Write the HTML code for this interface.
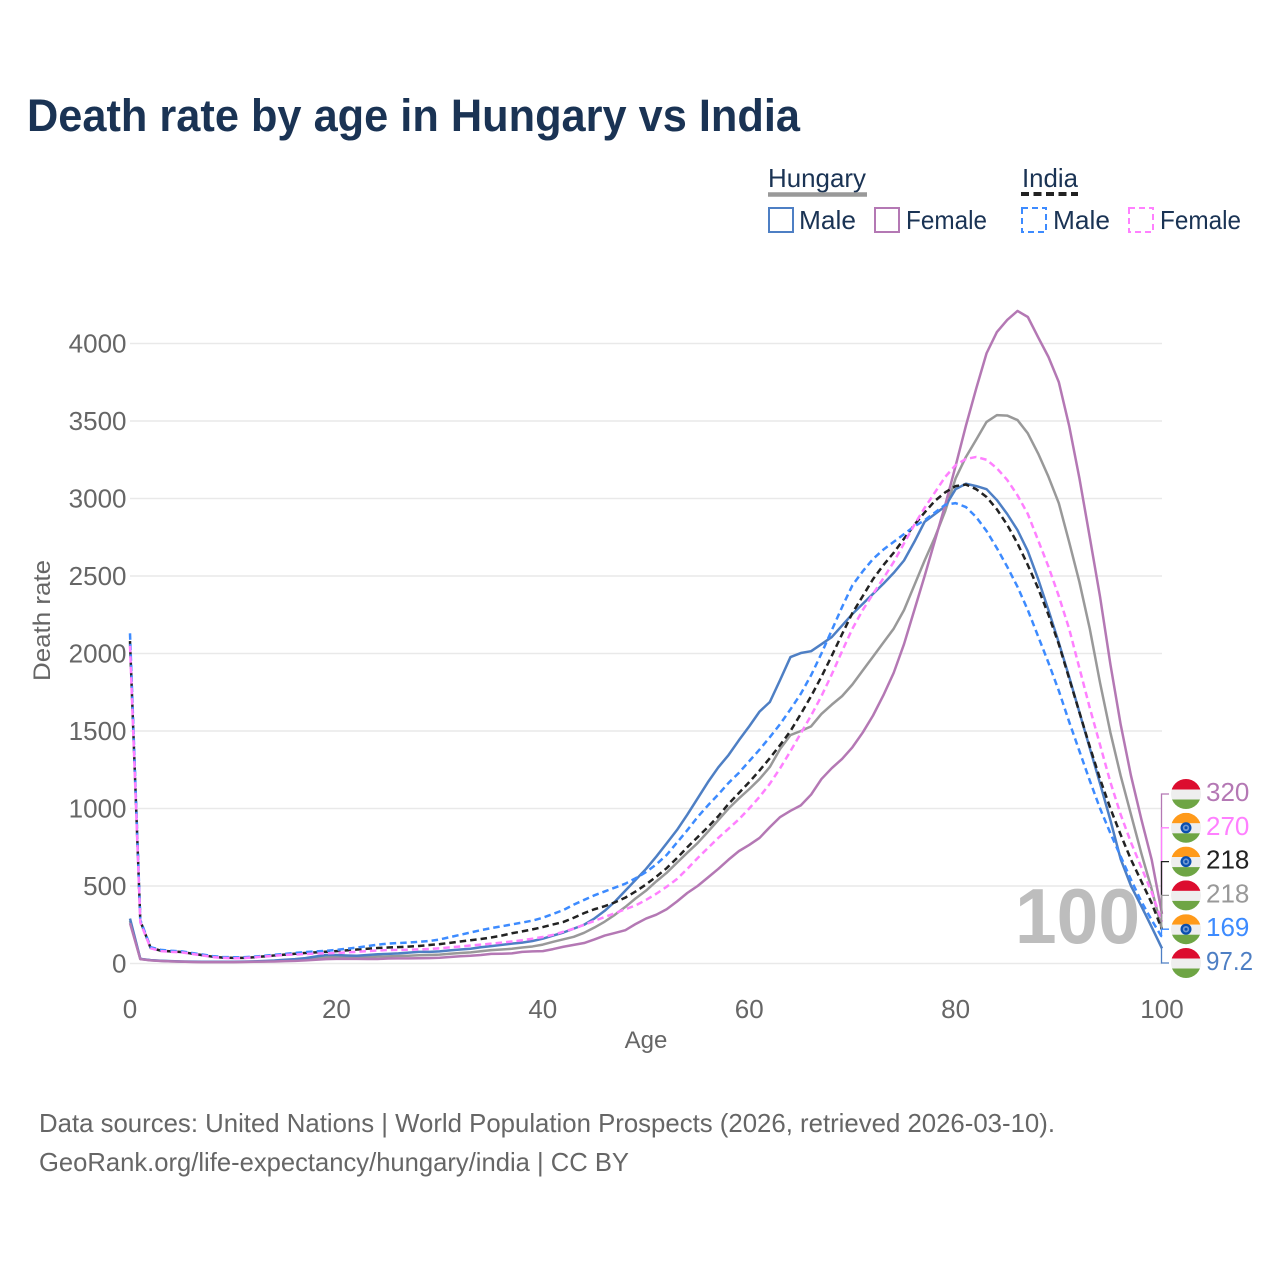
<!DOCTYPE html>
<html lang="en">
<head>
<meta charset="utf-8">
<title>Death rate by age in Hungary vs India</title>
<style>
html,body{margin:0;padding:0;background:#fff;}
svg{display:block;font-family:"Liberation Sans",sans-serif;}
</style>
</head>
<body>
<svg id="chart" xmlns="http://www.w3.org/2000/svg" width="1280" height="1280" viewBox="0 0 1280 1280">
<rect x="0" y="0" width="1280" height="1280" fill="#fff"/>
<text x="27" y="131" font-size="45" font-weight="700" fill="#1a3354" textLength="773" lengthAdjust="spacingAndGlyphs">Death rate by age in Hungary vs India</text>

<g>
<text x="768" y="187" font-size="26" fill="#1a3354" textLength="98" lengthAdjust="spacingAndGlyphs">Hungary</text>
<line x1="768" y1="194.5" x2="867" y2="194.5" stroke="#999" stroke-width="4.5"/>
<text x="1022" y="187" font-size="26" fill="#1a3354" textLength="56" lengthAdjust="spacingAndGlyphs">India</text>
<line x1="1021" y1="194" x2="1078" y2="194" stroke="#222" stroke-width="4" stroke-dasharray="8 4.5"/>
<rect x="769" y="208" width="24" height="24" fill="none" stroke="#4e7fc4" stroke-width="2"/>
<text x="799" y="229" font-size="26" fill="#1a3354" textLength="57" lengthAdjust="spacingAndGlyphs">Male</text>
<rect x="875" y="208" width="24" height="24" fill="none" stroke="#b478b4" stroke-width="2"/>
<text x="906" y="229" font-size="26" fill="#1a3354" textLength="81" lengthAdjust="spacingAndGlyphs">Female</text>
<rect x="1022" y="208" width="24" height="24" fill="none" stroke="#3d8bff" stroke-width="2" stroke-dasharray="6 4"/>
<text x="1053" y="229" font-size="26" fill="#1a3354" textLength="57" lengthAdjust="spacingAndGlyphs">Male</text>
<rect x="1129" y="208" width="24" height="24" fill="none" stroke="#ff80ff" stroke-width="2" stroke-dasharray="6 4"/>
<text x="1160" y="229" font-size="26" fill="#1a3354" textLength="81" lengthAdjust="spacingAndGlyphs">Female</text>
</g>

<g id="grid"></g>
<g id="yticks"></g>
<g id="xticks"></g>
<text transform="translate(50,620.5) rotate(-90)" text-anchor="middle" font-size="24" fill="#666" textLength="121" lengthAdjust="spacingAndGlyphs">Death rate</text>
<text x="646" y="1048" text-anchor="middle" font-size="24" fill="#666">Age</text>
<text x="1015" y="943" font-size="78" font-weight="700" fill="#bdbdbd" textLength="125" lengthAdjust="spacingAndGlyphs">100</text>
<g id="series"></g>
<g id="endlabels"></g>

<text x="39" y="1132" font-size="26" fill="#666" textLength="1016" lengthAdjust="spacingAndGlyphs">Data sources: United Nations | World Population Prospects (2026, retrieved 2026-03-10).</text>
<text x="39" y="1171" font-size="26" fill="#666" textLength="590" lengthAdjust="spacingAndGlyphs">GeoRank.org/life-expectancy/hungary/india | CC BY</text>
</svg>
<script>
const yTickValues = [0, 500, 1000, 1500, 2000, 2500, 3000, 3500, 4000];
const xTickValues = [0, 20, 40, 60, 80, 100];
const ages = [];
for (let a = 0; a <= 100; a++) ages.push(a);

const hungaryTotal = [275,29,21,17,14,12,11,10,10,10,10,11,12,14,16,19,22,27,33,40,42,41,40,41,44,46,48,50,53,55,57,63,68,72,79,86,90,95,103,110,122,140,156,172,198,232,270,315,365,420,470,530,585,650,715,777,850,925,1000,1065,1125,1190,1268,1385,1474,1500,1530,1610,1670,1725,1800,1890,1980,2070,2160,2280,2440,2600,2750,2920,3130,3268,3380,3494,3538,3535,3506,3420,3290,3140,2970,2720,2460,2160,1810,1490,1210,960,710,480,218];
const hungaryMale = [290,30,22,18,15,13,12,11,11,11,11,12,14,16,19,24,28,35,45,55,55,52,50,55,60,62,65,70,75,75,78,85,90,95,105,112,120,128,135,145,160,180,200,225,250,290,340,400,470,540,610,690,775,861,960,1065,1170,1265,1345,1440,1530,1625,1687,1830,1977,2003,2015,2060,2106,2180,2255,2320,2385,2450,2520,2600,2720,2850,2900,2950,3060,3095,3080,3060,2990,2900,2796,2660,2480,2280,2070,1850,1620,1390,1160,925,672,500,370,235,97.2];
const hungaryFemale = [260,28,20,16,14,12,10,9,9,9,9,10,11,12,13,15,17,20,24,28,30,30,30,29,29,32,33,33,34,35,37,42,47,50,55,62,63,65,75,78,80,93,108,120,132,155,180,197,215,255,290,315,350,400,455,500,555,610,670,725,765,810,880,945,985,1020,1090,1190,1260,1320,1395,1490,1600,1730,1875,2060,2280,2500,2730,2960,3210,3470,3710,3937,4074,4152,4210,4171,4040,3913,3751,3470,3130,2750,2365,1930,1540,1210,930,670,320];
const indiaTotal = [2080,275,100,83,78,74,64,54,44,38,36,36,40,46,52,57,63,68,72,76,80,85,90,95,100,103,106,109,113,119,125,133,142,150,158,168,180,195,207,220,235,252,268,295,325,350,370,395,425,465,510,560,615,680,750,815,880,950,1030,1100,1170,1245,1325,1410,1500,1610,1725,1850,1985,2125,2261,2370,2480,2570,2650,2740,2830,2910,2985,3040,3080,3090,3060,3010,2930,2830,2710,2570,2420,2250,2060,1840,1620,1400,1190,1000,830,670,530,390,218];
const indiaMale = [2130,280,105,88,82,78,68,58,48,42,40,40,44,50,56,62,68,74,78,82,88,95,103,112,122,128,132,135,140,145,155,170,185,200,215,228,240,252,264,277,295,320,345,380,410,440,465,490,515,550,590,640,700,780,860,945,1020,1090,1165,1230,1305,1380,1460,1545,1640,1740,1860,2000,2150,2300,2440,2530,2610,2670,2720,2770,2820,2860,2910,2960,2970,2945,2880,2790,2680,2560,2430,2280,2110,1940,1760,1560,1370,1180,1000,840,690,540,400,280,169];
const indiaFemale = [2050,265,98,80,75,72,62,52,42,36,34,35,39,45,50,55,58,61,64,66,68,72,76,80,84,87,88,89,91,94,98,104,110,116,122,128,135,142,150,160,171,185,205,225,250,275,300,325,350,375,410,450,495,545,610,680,745,810,870,930,1000,1075,1160,1260,1370,1485,1600,1725,1865,2015,2160,2280,2385,2485,2590,2710,2830,2940,3040,3140,3215,3255,3268,3250,3195,3120,3020,2900,2730,2560,2370,2160,1905,1650,1410,1170,960,780,620,460,270];

const endLabelTexts = ["320", "270", "218", "218", "169", "97.2"];

const svgNS = "http://www.w3.org/2000/svg";
const X0 = 130, X1 = 1162, Y0 = 963.5, Y4000 = 343.5;
function xScale(age) { return X0 + (X1 - X0) * age / 100; }
function yScale(v) { return Y0 + (Y4000 - Y0) * v / 4000; }
function make(tag, attrs, parent) {
  const el = document.createElementNS(svgNS, tag);
  for (const k in attrs) el.setAttribute(k, attrs[k]);
  parent.appendChild(el);
  return el;
}

const grid = document.getElementById("grid");
const yticks = document.getElementById("yticks");
const xticks = document.getElementById("xticks");
yTickValues.forEach(function (v) {
  const gl = make("line", {x1: X0, x2: X1, y1: yScale(v), y2: yScale(v), stroke: "#e9e9e9", "stroke-width": 1.5}, grid);
  
  
  const t = make("text", {x: 126.5, y: yScale(v) + 9, "text-anchor": "end", "font-size": 26, fill: "#666"}, yticks);
  
  
  t.textContent = v;
});
xTickValues.forEach(function (v) {
  const t = make("text", {x: xScale(v), y: 1018, "text-anchor": "middle", "font-size": 26, fill: "#666"}, xticks);
  
  
  t.textContent = v;
});

const series = document.getElementById("series");
function drawLine(values, color, dash, name) {
  const pts = values.map(function (v, i) { return xScale(ages[i]).toFixed(2) + "," + yScale(v).toFixed(2); }).join(" ");
  const attrs = {points: pts, fill: "none", stroke: color, "stroke-width": 2.5, "stroke-linejoin": "round"};
  if (dash) attrs["stroke-dasharray"] = "6.5 4";
  const p = make("polyline", attrs, series);
  
  
}
drawLine(hungaryTotal, "#999999", false, "line-hungary-total");
drawLine(hungaryMale, "#4e7fc4", false, "line-hungary-male");
drawLine(hungaryFemale, "#b478b4", false, "line-hungary-female");
drawLine(indiaTotal, "#222222", true, "line-india-total");
drawLine(indiaMale, "#3d8bff", true, "line-india-male");
drawLine(indiaFemale, "#ff80ff", true, "line-india-female");

const defs = make("defs", {}, document.getElementById("chart"));
const clip = make("clipPath", {id: "flag-clip", clipPathUnits: "userSpaceOnUse"}, defs);
make("circle", {cx: 0, cy: 0, r: 15}, clip);

const endLabels = document.getElementById("endlabels");
function drawFlag(parent, cy, country) {
  const g = make("g", {transform: "translate(1186," + cy + ")", "clip-path": "url(#flag-clip)"}, parent);
  
  
  const colors = country === "hungary" ? ["#dc0d2f", "#eeeeee", "#6ea544"] : ["#ff9a1a", "#eeeeee", "#6ea544"];
  make("rect", {x: -15, y: -15, width: 30, height: 10.5, fill: colors[0]}, g);
  make("rect", {x: -15, y: -4.5, width: 30, height: 10, fill: colors[1]}, g);
  make("rect", {x: -15, y: 5.5, width: 30, height: 10, fill: colors[2]}, g);
  if (country === "india") {
    make("circle", {cx: 0, cy: 0, r: 5.5, fill: "#0a4fb0"}, g);
    make("circle", {cx: 0, cy: 0, r: 3.2, fill: "#6f97d0"}, g);
    make("circle", {cx: 0, cy: 0, r: 1.5, fill: "#0a4fb0"}, g);
  }
}
function drawEndLabel(index, values, color, textColor, country, name) {
  const cy = 794 + index * 33.8;
  const vy = yScale(values[values.length - 1]);
  const bracket = make("polyline", {points: "1161.5," + vy.toFixed(2) + " 1161.5," + cy + " 1169," + cy, fill: "none", stroke: color, "stroke-width": 1.3}, endLabels);
  
  
  drawFlag(endLabels, cy, country);
  const t = make("text", {x: 1206, y: cy + 7, "font-size": 26, fill: textColor}, endLabels);
  
  
  t.textContent = endLabelTexts[index];
  if (endLabelTexts[index].length > 3) {
    t.setAttribute("textLength", "47");
    t.setAttribute("lengthAdjust", "spacingAndGlyphs");
  }
}
drawEndLabel(0, hungaryFemale, "#b478b4", "#b478b4", "hungary", "hungary-female");
drawEndLabel(1, indiaFemale, "#ff80ff", "#ff80ff", "india", "india-female");
drawEndLabel(2, indiaTotal, "#222222", "#222222", "india", "india-total");
drawEndLabel(3, hungaryTotal, "#999999", "#999999", "hungary", "hungary-total");
drawEndLabel(4, indiaMale, "#3d8bff", "#3d8bff", "india", "india-male");
drawEndLabel(5, hungaryMale, "#4e7fc4", "#4e7fc4", "hungary", "hungary-male");
</script>
</body>
</html>
